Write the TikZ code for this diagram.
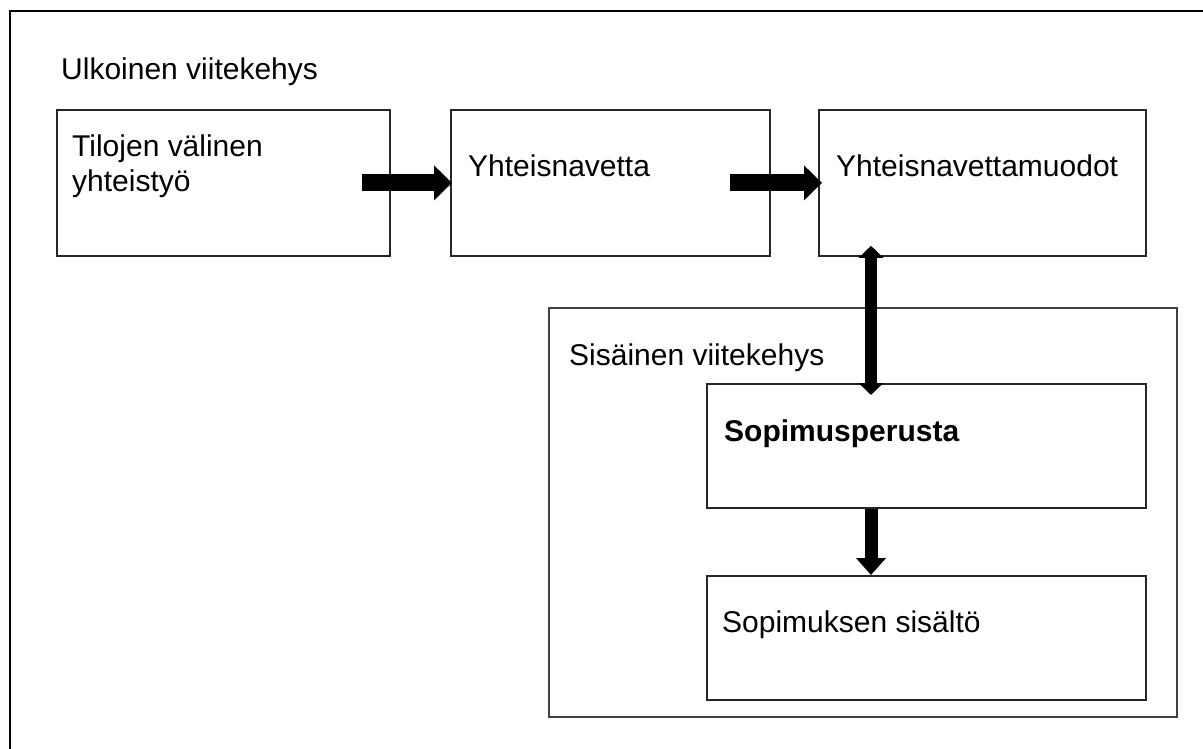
\documentclass[tikz,border=0pt]{standalone}
\usepackage{fontspec}
\setmainfont{Liberation Sans}
\usetikzlibrary{arrows.meta,calc}

\begin{document}
\begin{tikzpicture}[x=1pt,y=-1pt,
  laatikko/.style={draw=black!85, line width=1.8pt, rectangle, anchor=north west, inner sep=0pt},
  teksti/.style={anchor=base west, inner sep=0pt, align=left, font=\fontsize{30}{35}\selectfont},
  nuoli/.style={line width=17pt, -{Triangle[width=34pt,length=18pt]}}]
 \useasboundingbox (0,0) rectangle (1203,749);
 \draw[line width=1.8pt] (1203,11) -- (10,11) -- (10,749);
 \node[teksti] (ulko) at (61,80) {Ulkoinen viitekehys};

 \node[laatikko, minimum width=333pt, minimum height=146pt] (tilat) at (56,109) {};
 \node[teksti] (tilatT) at (72,192) {Tilojen välinen\\yhteistyö};
 \node[laatikko, minimum width=319pt, minimum height=146pt] (navetta) at (450,109) {};
 \node[teksti] (navettaT) at (468,177) {Yhteisnavetta};
 \node[laatikko, minimum width=327pt, minimum height=146pt] (muodot) at (818,109) {};
 \node[teksti] (muodotT) at (836,177) {Yhteisnavettamuodot};

 \node[laatikko, draw=black!75, line width=1.6pt, minimum width=628pt, minimum height=409pt] (sisa) at (548,307) {};
 \node[teksti] (sisaT) at (569,365) {Sisäinen viitekehys};
 \node[laatikko, minimum width=439pt, minimum height=124pt] (perusta) at (706,383) {};
 \node[teksti, font=\fontsize{30}{35}\selectfont\bfseries] (perustaT) at (724,441) {Sopimusperusta};
 \node[laatikko, minimum width=439pt, minimum height=124pt] (sisalto) at (706,575) {};
 \node[teksti] (sisaltoT) at (722,632) {Sopimuksen sisältö};

 \coordinate (akseli) at (871,0);
 \draw[nuoli] ([xshift=-29pt]tilat.east) -- ([xshift=2pt]navetta.west);
 \draw[nuoli] ([xshift=-41pt]navetta.east) -- ([xshift=4pt]muodot.west);
 \draw[line width=12pt, {Triangle[width=24pt,length=12pt]}-{Triangle[width=24pt,length=12pt]}]
   ($(muodot.south -| akseli)+(0,-11)$) -- ($(perusta.north -| akseli)+(0,12)$);
 \draw[line width=13pt, -{Triangle[width=29pt,length=17pt]}] (perusta.south -| akseli) -- (sisalto.north -| akseli);
\end{tikzpicture}
\end{document}
